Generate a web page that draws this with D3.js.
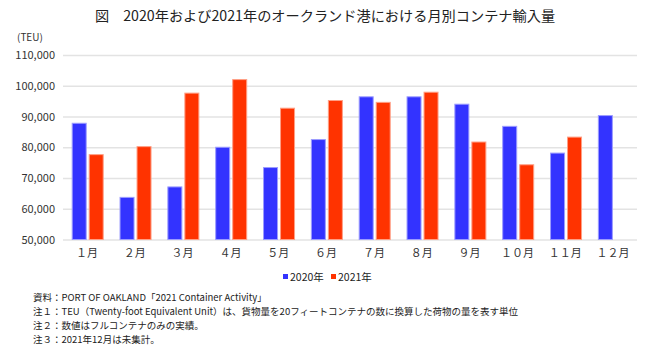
<!DOCTYPE html>
<html><head><meta charset="utf-8">
<script src="https://cdn.jsdelivr.net/npm/d3@7"></script>
<style>
body{margin:0;background:#fff;}
svg{display:block;font-family:"Noto Sans CJK JP","Noto Sans",sans-serif;}
</style></head>
<body><svg id="c" width="650" height="347"></svg>
<script>
const months = ["１月","２月","３月","４月","５月","６月","７月","８月","９月","１０月","１１月","１２月"];
const seriesNames = ["2020年","2021年"];
const values2020 = [87800,63700,67100,80000,73400,82500,96400,96400,94000,86800,78100,90300];
const values2021 = [77600,80200,97600,102000,92700,95200,94600,97900,81700,74300,83300,null];
const yTicks = [50000,60000,70000,80000,90000,100000,110000];
const colors = ["#3333ff","#ff3300"];
const strokes = ["#9c9cff","#ff9f85"];
const title = "図　2020年および2021年のオークランド港における月別コンテナ輸入量";
const notes = [
 "資料：PORT OF OAKLAND「2021 Container Activity」",
 "注１：TEU（Twenty-foot Equivalent Unit）は、貨物量を20フィートコンテナの数に換算した荷物の量を表す単位",
 "注２：数値はフルコンテナのみの実績。",
 "注３：2021年12月は未集計。"
];

const svg = d3.select("#c");
const L=63,R=637,T=55,B=239.5;
const x0 = d3.scaleBand().domain(months).range([L,R]).padding(0);
const x1 = d3.scaleBand().domain(seriesNames).range([8.7,40.7]).paddingInner(2/17);
const y = d3.scaleLinear().domain([50000,110000]).range([B,T]);

svg.append("text").attr("x",325).attr("y",21).attr("text-anchor","middle")
  .attr("font-size",14.2).attr("fill","#222").text(title);
svg.append("text").attr("x",17).attr("y",41).attr("font-size",10).attr("fill","#333").text("(TEU)");

// grid
const yAxis = svg.append("g").attr("transform",`translate(${L},0)`)
  .call(d3.axisLeft(y).tickValues(yTicks).tickSize(-(R-L)).tickFormat(d3.format(",")).tickPadding(8));
yAxis.select(".domain").remove();
yAxis.selectAll(".tick line").attr("stroke","#e3e3e3").attr("stroke-width",1.5);
yAxis.selectAll(".tick text").attr("font-size",11).attr("fill","#333")
  .attr("font-family","'Noto Sans CJK JP',sans-serif");

const data = months.map((m,i)=>({m, vals:[values2020[i],values2021[i]]}));
const g = svg.append("g");
data.forEach(d=>{
  d.vals.forEach((v,j)=>{
    if(v==null) return;
    g.append("rect")
      .attr("x",x0(d.m)+x1(seriesNames[j])+0.5)
      .attr("y",y(v))
      .attr("width",x1.bandwidth()-1)
      .attr("height",B-y(v))
      .attr("fill",colors[j]).attr("stroke",strokes[j]).attr("stroke-width",1);
  });
});

// x axis labels
const xAxis = svg.append("g").attr("transform",`translate(0,${B})`)
  .call(d3.axisBottom(x0).tickSize(0).tickPadding(10));
xAxis.select(".domain").remove();
xAxis.selectAll(".tick text").attr("font-size",11).attr("fill","#333")
  .attr("font-family","'Noto Sans CJK JP',sans-serif");

// legend
const leg = svg.append("g");
const legX=[283,331];
seriesNames.forEach((s,i)=>{
  leg.append("rect").attr("x",legX[i]).attr("y",274).attr("width",5).attr("height",5).attr("fill",colors[i]);
  leg.append("text").attr("x",legX[i]+7).attr("y",280.5).attr("font-size",10.5).attr("fill","#222").text(s);
});

notes.forEach((n,i)=>{
  svg.append("text").attr("x",33).attr("y",[300.5,315,329,343][i]).attr("font-size",9.5).attr("fill","#222").text(n);
});
</script></body></html>
